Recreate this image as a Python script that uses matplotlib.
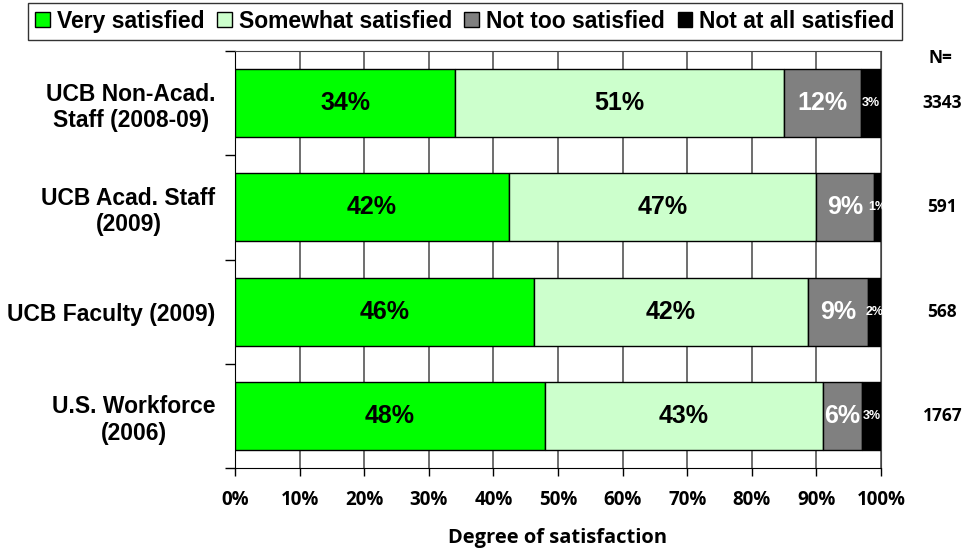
import numpy as np
import matplotlib.pyplot as plt
from matplotlib.patches import Patch

# categories top to bottom
groups = ['UCB Non-Acad.\nStaff (2008-09)', 'UCB Acad. Staff\n(2009)',
          'UCB Faculty (2009)', 'U.S. Workforce\n(2006)']
n_resp = ['3343', '591', '568', '1767']
series = ['Very satisfied', 'Somewhat satisfied', 'Not too satisfied', 'Not at all satisfied']
very = [34.1, 42.4, 46.3, 48.0]
somewhat = [50.9, 47.5, 42.4, 43.0]
not_too = [11.9, 9.0, 9.3, 6.1]
not_at_all = [3.1, 1.1, 2.0, 2.9]
shown = [['34%', '51%', '12%', '3%'],
         ['42%', '47%', '9%', '1%'],
         ['46%', '42%', '9%', '2%'],
         ['48%', '43%', '6%', '3%']]
colors = ['#00ff00', '#ccffcc', '#808080', '#000000']
text_colors = ['black', 'black', 'white', 'white']
text_sizes = [18, 18, 18, 9]

fig = plt.figure(figsize=(9.73, 5.48), dpi=100)
ax = fig.add_axes([235/973, 1 - 468/548, 646/973, 417/548])

y = np.arange(len(groups))
left = np.zeros(len(groups))
for k, vals in enumerate([very, somewhat, not_too, not_at_all]):
    ax.barh(y, vals, left=left, height=0.65, color=colors[k], edgecolor='black',
            linewidth=1, zorder=3)
    for i in range(len(groups)):
        ax.text(left[i] + vals[i] / 2, y[i], shown[i][k], ha='center', va='center',
                fontsize=text_sizes[k], fontweight='bold', color=text_colors[k],
                family='Liberation Sans', zorder=4)
    left += np.array(vals)

ax.set_xlim(0, 100)
ax.set_ylim(len(groups) - 0.5, -0.5)
ax.set_xticks(np.arange(0, 101, 10))
ax.set_xticklabels([f'{v}%' for v in range(0, 101, 10)], fontsize=13.5,
                   fontweight='bold', family='Open Sans')
ax.tick_params(axis='x', length=6, width=1, pad=10)
ax.set_yticks(y)
ax.set_yticklabels(groups, fontsize=16.5, fontweight='bold', family='Liberation Sans',
                   multialignment='center')
ax.set_yticks(np.arange(-0.5, len(groups)), minor=True)
ax.tick_params(axis='y', which='major', length=0, pad=14)
ax.tick_params(axis='y', which='minor', length=7, width=1)
ax.grid(axis='x', color='#555555', linewidth=1.2, zorder=0)
for s in ['top', 'right']:
    ax.spines[s].set_color('#444444')
ax.set_xlabel('Degree of satisfaction', fontsize=14.5, fontweight='bold',
              family='Open Sans', labelpad=13)

# N column
ax.text(940/973, 1 - 58/548, 'N=', transform=fig.transFigure, ha='center', va='center',
        fontsize=12.5, fontweight='bold', family='Open Sans')
for i, n in enumerate(n_resp):
    ax.text(1.095, y[i], n, transform=ax.get_yaxis_transform(), ha='center',
            va='center', fontsize=12.5, fontweight='bold', family='Open Sans')

handles = [Patch(facecolor=c, edgecolor='black', label=s) for c, s in zip(colors, series)]
leg = fig.legend(handles=handles, loc='upper left', bbox_to_anchor=(28/973, 1 - 3/548),
                 ncol=4, frameon=True, fancybox=False, edgecolor='black',
                 prop={'family': 'Liberation Sans', 'weight': 'bold', 'size': 16.5},
                 handlelength=0.65, handleheight=0.65, handletextpad=0.3,
                 columnspacing=0.55, borderpad=0.3, borderaxespad=0)
leg.get_frame().set_linewidth(1)

fig.savefig('out.png', dpi=100)
